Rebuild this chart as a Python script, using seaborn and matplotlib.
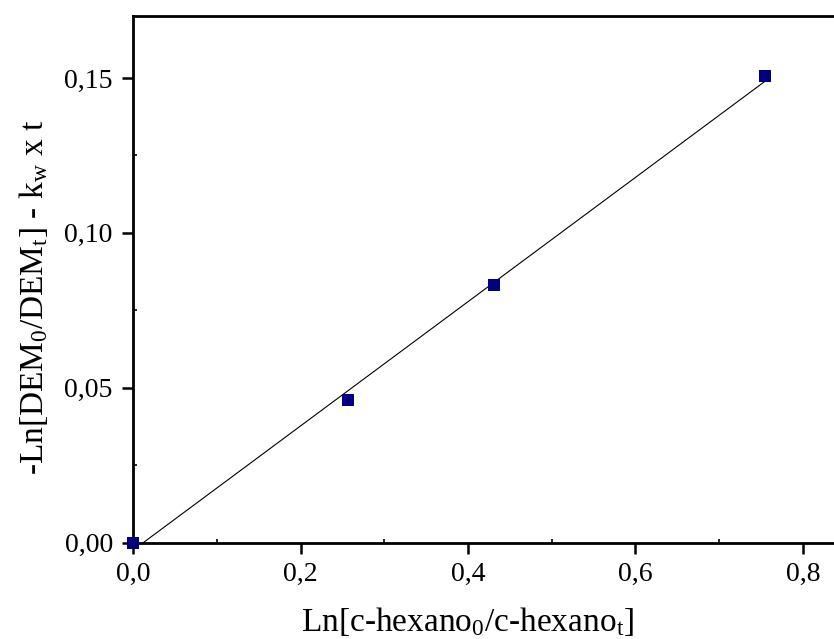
import numpy as np
import pandas as pd
import matplotlib
matplotlib.use("Agg")
import matplotlib.pyplot as plt
from matplotlib.ticker import MultipleLocator, FuncFormatter
import seaborn as sns

# Measured values
ln_hexano = [0.0, 0.257, 0.431, 0.7546]
ln_dem = [0.0, 0.046, 0.0831, 0.1505]

x_ticks = [0.0, 0.2, 0.4, 0.6, 0.8]
y_ticks = [0.00, 0.05, 0.10, 0.15]

sns.set_theme(style="white")
plt.rcParams["font.family"] = ["Liberation Serif", "DejaVu Serif"]
plt.rcParams["mathtext.fontset"] = "custom"
plt.rcParams["mathtext.rm"] = "Liberation Serif"
plt.rcParams["mathtext.it"] = "Liberation Serif:italic"

df = pd.DataFrame({"x": ln_hexano, "y": ln_dem})

W, H = 834, 639
fig = plt.figure(figsize=(W / 100, H / 100), dpi=100)
left_px, bottom_px, top_px = 133, 542.7, 16
px_per_unit = 837.5
# x axis runs up to the right border of the figure
x_max = (W - left_px) / px_per_unit
ax_w = W - left_px
ax_h = bottom_px - top_px
ax = fig.add_axes([left_px / W, 1 - bottom_px / H, ax_w / W, ax_h / H])

# Linear fit through the measured points
slope, intercept = np.polyfit(df["x"], df["y"], 1)
xf = np.array([df["x"].min(), df["x"].max()])
ax.plot(xf, slope * xf + intercept, color="black", lw=0.8, zorder=2)

sns.scatterplot(data=df, x="x", y="y", marker="s", s=75, color="#000080",
                edgecolor="none", ax=ax, zorder=3, clip_on=False)

ax.set_xlim(0, x_max)
ax.set_ylim(0, 0.17)
ax.set_xticks(x_ticks)
ax.set_yticks(y_ticks)
ax.xaxis.set_minor_locator(MultipleLocator(0.1))
ax.yaxis.set_minor_locator(MultipleLocator(0.025))
ax.xaxis.set_major_formatter(FuncFormatter(lambda v, p: f"{v:.1f}".replace(".", ",")))
ax.yaxis.set_major_formatter(FuncFormatter(lambda v, p: f"{v:.2f}".replace(".", ",")))

for s in ax.spines.values():
    s.set_linewidth(2.0)
    s.set_color("black")
ax.spines["right"].set_visible(False)

ax.tick_params(which="major", direction="out", length=8, width=1.8, labelsize=20,
               colors="black")
ax.tick_params(axis="y", which="major", pad=6.5)
ax.tick_params(axis="x", which="major", pad=6)
ax.tick_params(which="minor", direction="in", length=3, width=1.2, colors="black")
ax.tick_params(axis="both", which="both", bottom=True, left=True, top=False, right=False)

ax.set_xlabel(r"Ln[c-hexano$\mathregular{_0}$/c-hexano$\mathregular{_t}$]", fontsize=24,
              va="baseline", color="black")
ax.set_ylabel(r"-Ln[DEM$\mathregular{_0}$/DEM$\mathregular{_t}$] - k$\mathregular{_w}$ x t", fontsize=24,
              va="baseline", color="black")
ax.xaxis.set_label_coords((468 - left_px) / ax_w, (bottom_px - 631) / ax_h)
ax.yaxis.set_label_coords((43 - left_px) / ax_w, (bottom_px - 297) / ax_h)

fig.savefig("out.png", dpi=100)
